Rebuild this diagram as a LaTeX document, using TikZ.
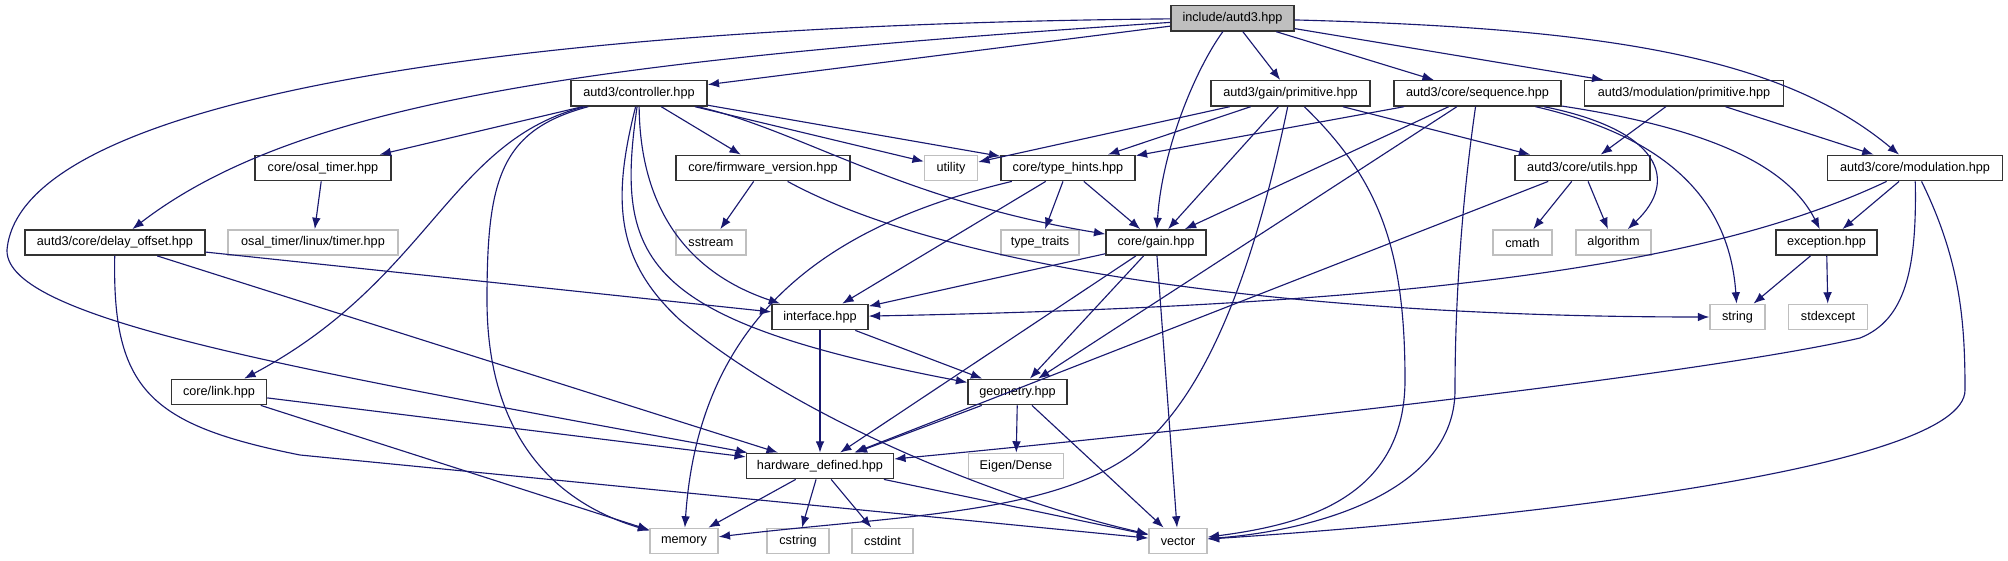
\documentclass[tikz,border=0pt]{standalone}
\usepackage{fontspec}
\setmainfont{Liberation Sans}
\usetikzlibrary{arrows.meta}
\definecolor{edgeblue}{HTML}{191970}
\tikzset{
    file/.style={
        draw=black!80,
        fill=white,
        line width=1.1pt,
        minimum height=19pt,
        inner sep=1pt,
        font=\fontsize{9.5}{11}\selectfont
    },
    rootfile/.style={
        file,
        fill=black!25
    },
    sysfile/.style={
        file,
        draw=black!25
    },
    arrow/.style={
        -{Latex[length=8.5pt,width=6.5pt]},
        draw=edgeblue,
        line width=0.85pt
    }
}

\begin{document}
\begin{tikzpicture}[x=0.75pt,y=-0.75pt]
\useasboundingbox (0,0) rectangle (2008,560);

\node[rootfile, minimum width=92.25pt] (root) at (1232.5,18.3) {include/autd3.hpp};

\node[file, minimum width=102pt] (ctrl) at (639,93.3) {autd3/controller.hpp};
\node[file, minimum width=119.25pt] (gprim) at (1290.5,93.3) {autd3/gain/primitive.hpp};
\node[file, minimum width=125.25pt] (seq) at (1477.5,93.3) {autd3/core/sequence.hpp};
\node[file, minimum width=149.25pt] (mprim) at (1684,93.3) {autd3/modulation/primitive.hpp};

\node[file, minimum width=102pt] (osal) at (323,168) {core/osal\_timer.hpp};
\node[file, minimum width=130.5pt] (fw) at (763,168) {core/firmware\_version.hpp};
\node[sysfile, minimum width=39.75pt] (util) at (951,168) {utility};
\node[file, minimum width=100.5pt] (hints) at (1068,168) {core/type\_hints.hpp};
\node[file, minimum width=101.25pt] (utils) at (1582.5,168) {autd3/core/utils.hpp};
\node[file, minimum width=131.25pt] (cmod) at (1915,168) {autd3/core/modulation.hpp};

\node[file, minimum width=135pt] (delay) at (115,242.5) {autd3/core/delay\_offset.hpp};
\node[sysfile, minimum width=127.5pt] (ltimer) at (313,242.5) {osal\_timer/linux/timer.hpp};
\node[sysfile, minimum width=52.5pt] (sstream) at (711,242.5) {sstream};
\node[sysfile, minimum width=58.5pt] (traits) at (1040,242.5) {type\_traits};
\node[file, minimum width=75pt] (gain) at (1156,242.5) {core/gain.hpp};
\node[sysfile, minimum width=44.25pt] (cmath) at (1522.5,242.5) {cmath};
\node[sysfile, minimum width=56.25pt] (algo) at (1613.5,242.5) {algorithm};
\node[file, minimum width=75.75pt] (exc) at (1826.5,242.5) {exception.hpp};

\node[file, minimum width=72pt] (iface) at (820,317) {interface.hpp};
\node[sysfile, minimum width=41.25pt] (str) at (1737.5,317) {string};
\node[sysfile, minimum width=59.25pt] (stdexc) at (1828,317) {stdexcept};

\node[file, minimum width=71.25pt] (link) at (219,392) {core/link.hpp};
\node[file, minimum width=74.25pt] (geom) at (1017.5,392) {geometry.hpp};

\node[file, minimum width=110.25pt] (hw) at (820,466) {hardware\_defined.hpp};
\node[sysfile, minimum width=71.25pt] (eigen) at (1016,466) {Eigen/Dense};

\node[sysfile, minimum width=51pt] (memory) at (684,541) {memory};
\node[sysfile, minimum width=46.5pt] (cstring) at (798,541) {cstring};
\node[sysfile, minimum width=45.75pt] (cstdint) at (882.5,541) {cstdint};
\node[sysfile, minimum width=43.5pt] (vector) at (1178,541) {vector};

% include/autd3.hpp
\draw[arrow] (root) -- (ctrl);
\draw[arrow] (root) .. controls (500,25) and (20,100) .. (7,250)
    .. controls (5,320) and (300,370) .. (hw);
\draw[arrow] (root) .. controls (600,60) and (300,100) .. (delay);
\draw[arrow] (root) .. controls (1195,70) and (1162,150) .. (gain);
\draw[arrow] (root) -- (gprim);
\draw[arrow] (root) -- (seq);
\draw[arrow] (root) -- (mprim);
\draw[arrow] (root) .. controls (1600,28) and (1780,55) .. (cmod);

% controller
\draw[arrow] (ctrl) -- (osal);
\draw[arrow] (ctrl) -- (fw);
\draw[arrow] (ctrl) -- (util);
\draw[arrow] (ctrl) -- (hints);
\draw[arrow] (ctrl) .. controls (800,130) and (900,200) .. (gain);
\draw[arrow] (ctrl) .. controls (450,140) and (430,280) .. (link);
\draw[arrow] (ctrl) .. controls (500,130) and (487,180) .. (487,300)
    .. controls (487,460) and (580,510) .. (memory);
\draw[arrow] (ctrl) .. controls (640,200) and (680,270) .. (iface);
\draw[arrow] (ctrl) .. controls (615,260) and (640,320) .. (geom);
\draw[arrow] (ctrl) .. controls (612,200) and (615,260) .. (680,320)
    .. controls (800,420) and (1000,500) .. (vector);

\draw[arrow] (osal) -- (ltimer);

% delay offset
\draw[arrow] (delay) -- (iface);
\draw[arrow] (delay) -- (hw);
\draw[arrow] (delay) .. controls (112,390) and (150,425) .. (300,455) -- (vector);

\draw[arrow] (fw) -- (sstream);
\draw[arrow] (fw) .. controls (950,270) and (1300,317) .. (str);

% type hints
\draw[arrow] (hints) -- (traits);
\draw[arrow] (hints) -- (gain);
\draw[arrow] (hints) -- (iface);
\draw[arrow] (hints) .. controls (850,220) and (700,300) .. (memory);

% gain primitive
\draw[arrow] (gprim) -- (util);
\draw[arrow] (gprim) -- (hints);
\draw[arrow] (gprim) -- (gain);
\draw[arrow] (gprim) -- (utils);
\draw[arrow] (gprim) .. controls (1262,230) and (1220,380) .. (1141,447)
    .. controls (1060,515) and (900,515) .. (memory);
\draw[arrow] (gprim) .. controls (1380,180) and (1405,250) .. (1405,380)
    .. controls (1405,500) and (1300,525) .. (vector);

% sequence
\draw[arrow] (seq) -- (hints);
\draw[arrow] (seq) -- (gain);
\draw[arrow] (seq) -- (geom);
\draw[arrow] (seq) .. controls (1462,200) and (1455,300) .. (1455,390)
    .. controls (1455,490) and (1320,530) .. (vector);
\draw[arrow] (seq) .. controls (1660,130) and (1680,180) .. (algo);
\draw[arrow] (seq) .. controls (1680,140) and (1730,210) .. (str);
\draw[arrow] (seq) .. controls (1720,130) and (1790,170) .. (exc);

\draw[arrow] (mprim) -- (utils);
\draw[arrow] (mprim) -- (cmod);

\draw[arrow] (utils) -- (cmath);
\draw[arrow] (utils) -- (algo);
\draw[arrow] (utils) -- (hw);

% core modulation
\draw[arrow] (cmod) -- (exc);
\draw[arrow] (cmod) .. controls (1720,260) and (1450,305) .. (iface);
\draw[arrow] (cmod) .. controls (1917,270) and (1905,320) .. (1860,338)
    .. controls (1700,375) and (1200,430) .. (hw);
\draw[arrow] (cmod) .. controls (1960,260) and (1965,320) .. (1965,390)
    .. controls (1965,470) and (1500,520) .. (vector);

\draw[arrow] (exc) -- (str);
\draw[arrow] (exc) -- (stdexc);

% gain
\draw[arrow] (gain) -- (iface);
\draw[arrow] (gain) -- (geom);
\draw[arrow] (gain) -- (hw);
\draw[arrow] (gain) -- (vector);

\draw[arrow] (iface) -- (hw);
\draw[arrow] (iface) -- (geom);

\draw[arrow] (link) -- (hw);
\draw[arrow] (link) -- (memory);

\draw[arrow] (geom) -- (hw);
\draw[arrow] (geom) -- (eigen);
\draw[arrow] (geom) -- (vector);

% hardware defined
\draw[arrow] (hw) -- (memory);
\draw[arrow] (hw) -- (cstring);
\draw[arrow] (hw) -- (cstdint);
\draw[arrow] (hw) -- (vector);

\end{tikzpicture}
\end{document}
